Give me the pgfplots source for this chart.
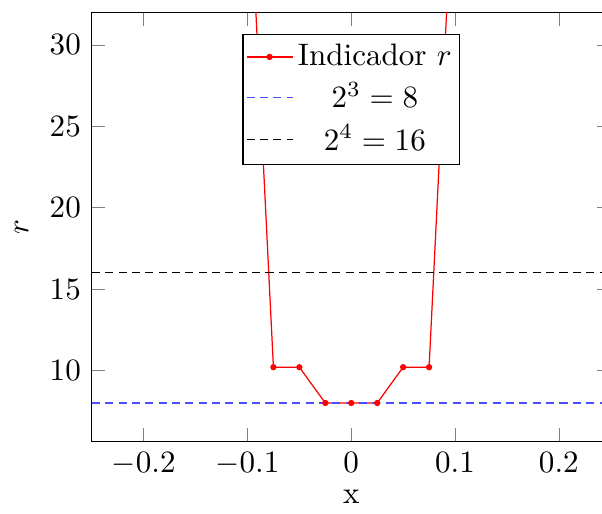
\documentclass[border=0pt]{standalone}
\usepackage{pgfplots}
\pgfplotsset{compat=1.18}
\begin{document}
\begin{tikzpicture}
\begin{axis}[
  name=ax,
  scale only axis,
  width=167pt, height=138pt,
  xmin=-0.25, xmax=0.25,
  ymin=5.65, ymax=32,
  xtick={-0.2,-0.1,0,0.1,0.2},
  ytick={10,15,20,25,30},
  xlabel={x},
  ylabel={$r$},
  xlabel style={yshift=2pt},
  legend cell align=center,
  legend image code/.code={\draw[mark repeat=2,mark phase=2] plot coordinates {(0pt,0pt) (7.4pt,0pt) (14.8pt,0pt)};},
  legend style={at={(0.5,0.95)}, anchor=north, inner xsep=1pt, inner ysep=1pt, nodes={inner xsep=1.5pt, inner ysep=2pt}},
]
\addplot[red, mark=*, mark size=0.8pt] coordinates {
 (-0.125,80) (-0.1,42.5) (-0.075,10.2) (-0.05,10.2) (-0.025,8) (0,8) (0.025,8) (0.05,10.2) (0.075,10.2) (0.1,42.5) (0.125,80)
};
\addlegendentry{Indicador $r$}
\addplot[blue!70, dash pattern=on 2.6pt off 1.7pt] coordinates {(-0.25,8) (0.25,8)};
\addlegendentry{$2^3=8$}
\addplot[black, dash pattern=on 2.6pt off 1.7pt] coordinates {(-0.25,16) (0.25,16)};
\addlegendentry{$2^4=16$}
\end{axis}
\pgfresetboundingbox
\path ([xshift=-1.5pt]ax.outer south west) rectangle ([xshift=-2.8pt, yshift=4pt]ax.north east);
\end{tikzpicture}
\end{document}
